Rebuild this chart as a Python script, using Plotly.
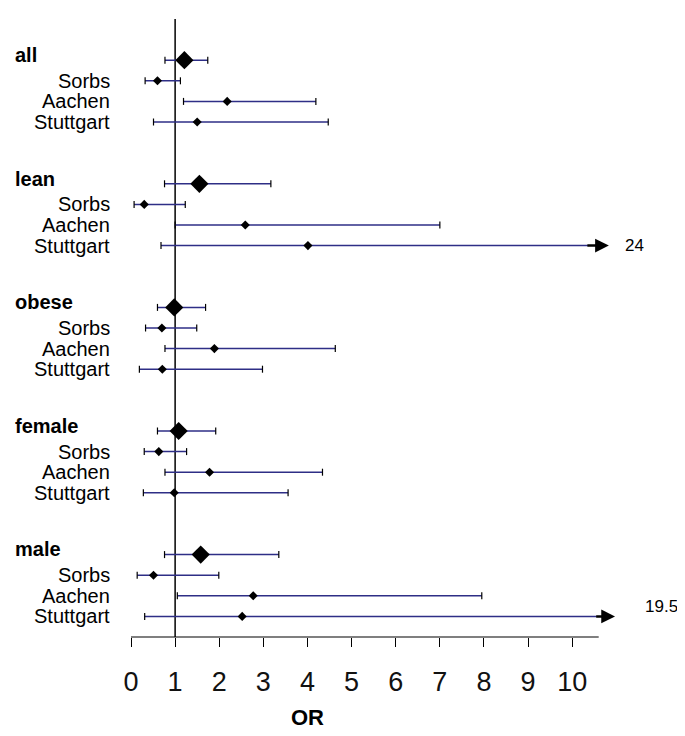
import plotly.graph_objects as go

groups = ["all", "lean", "obese", "female", "male"]
cohorts = ["Sorbs", "Aachen", "Stuttgart"]

# pooled OR and 95% CI per group
pooled_or = [1.21, 1.55, 0.98, 1.08, 1.58]
pooled_lo = [0.77, 0.76, 0.60, 0.60, 0.76]
pooled_hi = [1.74, 3.17, 1.69, 1.92, 3.35]

# per-cohort OR and CI (rows: groups, cols: Sorbs, Aachen, Stuttgart)
cohort_or = [[0.60, 2.18, 1.50],
             [0.30, 2.59, 4.01],
             [0.70, 1.89, 0.71],
             [0.63, 1.78, 0.98],
             [0.51, 2.77, 2.52]]
cohort_lo = [[0.32, 1.19, 0.51],
             [0.07, 1.00, 0.68],
             [0.33, 0.77, 0.19],
             [0.30, 0.77, 0.28],
             [0.14, 1.05, 0.31]]
cohort_hi = [[1.12, 4.19, 4.47],
             [1.23, 7.00, 24.0],
             [1.49, 4.63, 2.98],
             [1.26, 4.34, 3.56],
             [1.99, 7.95, 19.5]]

x_ticks = list(range(0, 11))
axis_end = 10.6
# truncated intervals: (group, cohort) -> (line end, arrow tip, label paper-x, label dy)
truncated = {(1, 2): (10.36, 10.83, 0.978, 0.0),
             (4, 2): (10.56, 10.97, 1.018, -0.5)}

ROWS_PER_GROUP = 6
LINE_COLOR = "#2e2e86"
FONT = "Liberation Sans, Arial, sans-serif"

line_x, line_y = [], []
cap_x, cap_y = [], []
pt_x, pt_y = [], []
dia_x, dia_y = [], []
annotations = []

for g, gname in enumerate(groups):
    y0 = g * ROWS_PER_GROUP
    line_x += [pooled_lo[g], pooled_hi[g], None]
    line_y += [y0, y0, None]
    cap_x += [pooled_lo[g], pooled_hi[g]]
    cap_y += [y0, y0]
    dia_x.append(pooled_or[g])
    dia_y.append(y0)
    annotations.append(dict(x=-0.2346, xref="paper", y=y0 - 0.25, yref="y",
                            text="<b>%s</b>" % gname, showarrow=False,
                            xanchor="left", yanchor="middle",
                            font=dict(size=20, color="black", family=FONT)))
    for c, cname in enumerate(cohorts):
        y = y0 + c + 1
        hi = cohort_hi[g][c]
        if (g, c) in truncated:
            lend, tip, lx, dy = truncated[(g, c)]
            line_x += [cohort_lo[g][c], lend, None]
            line_y += [y, y, None]
            cap_x += [cohort_lo[g][c]]
            cap_y += [y]
            annotations.append(dict(x=tip, y=y, xref="x", yref="y",
                                    ax=lend - 0.05, ay=y, axref="x", ayref="y",
                                    text="", showarrow=True, arrowhead=2,
                                    arrowsize=1.1, arrowwidth=2.5,
                                    arrowcolor="black"))
            annotations.append(dict(x=lx, y=y + dy, xref="paper", yref="y",
                                    text=("%g" % hi), showarrow=False,
                                    xanchor="left", yanchor="middle",
                                    font=dict(size=17, color="black", family=FONT)))
        else:
            line_x += [cohort_lo[g][c], hi, None]
            line_y += [y, y, None]
            cap_x += [cohort_lo[g][c], hi]
            cap_y += [y, y]
        pt_x.append(cohort_or[g][c])
        pt_y.append(y)
        annotations.append(dict(x=-0.0378, xref="paper", y=y, yref="y",
                                text=cname, showarrow=False,
                                xanchor="right", yanchor="middle",
                                font=dict(size=20, color="black", family=FONT)))

annotations.append(dict(x=4, xref="x", y=-0.129, yref="paper", text="<b>OR</b>",
                        showarrow=False, xanchor="center", yanchor="middle",
                        height=22, borderpad=0,
                        font=dict(size=22, color="black", family=FONT)))

fig = go.Figure()
fig.add_trace(go.Scatter(x=line_x, y=line_y, mode="lines",
                         line=dict(color=LINE_COLOR, width=1.5),
                         hoverinfo="skip", showlegend=False))
fig.add_trace(go.Scatter(x=cap_x, y=cap_y, mode="markers",
                         marker=dict(symbol="line-ns", size=5,
                                     line=dict(color="black", width=1.2)),
                         hoverinfo="skip", showlegend=False))
fig.add_trace(go.Scatter(x=pt_x, y=pt_y, mode="markers",
                         marker=dict(symbol="diamond", size=7, color="black"),
                         showlegend=False))
fig.add_trace(go.Scatter(x=dia_x, y=dia_y, mode="markers",
                         marker=dict(symbol="diamond", size=14, color="black"),
                         showlegend=False))

shapes = [
    dict(type="line", xref="x", yref="paper", x0=1, x1=1, y0=0, y1=1,
         line=dict(color="black", width=1.5), layer="below"),
    dict(type="line", xref="x", yref="paper", x0=0, x1=axis_end, y0=0, y1=0,
         line=dict(color="black", width=1.2), layer="above"),
]

fig.update_layout(
    width=669, height=720,
    margin=dict(l=123, r=43, t=11, b=91),
    paper_bgcolor="white", plot_bgcolor="white",
    showlegend=False,
    shapes=shapes,
    annotations=annotations,
    font=dict(family=FONT, color="black"),
    xaxis=dict(range=[0, 11.4], tickvals=x_ticks, ticktext=[str(t) for t in x_ticks],
               showgrid=False, zeroline=False, showline=False,
               ticks="outside", ticklen=9, tickwidth=1.2, tickcolor="black",
               tickfont=dict(size=27, color="#111111", family=FONT),
               ticklabelstandoff=12, fixedrange=True),
    yaxis=dict(range=[28, -2], visible=False, fixedrange=True),
)

fig.write_html("out.html")
